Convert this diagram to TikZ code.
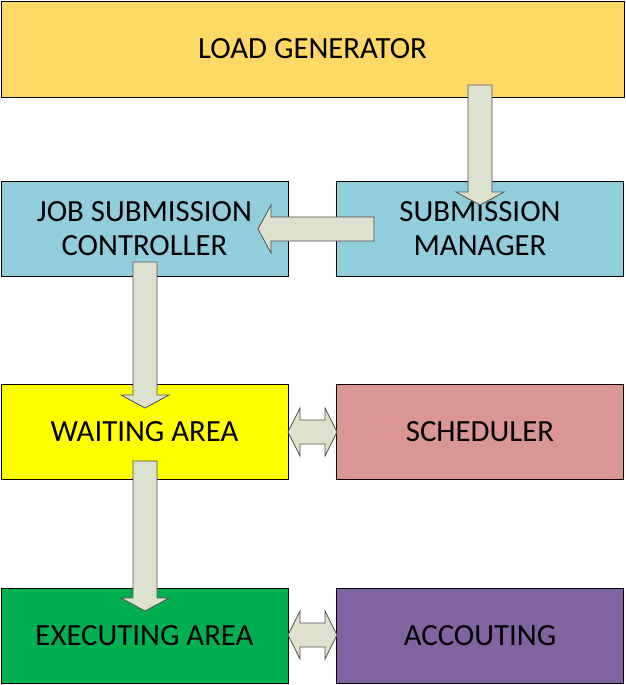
\documentclass[tikz,border=0pt]{standalone}
\usepackage{fontspec}
\setmainfont{Carlito}
\definecolor{lgc}{RGB}{255,217,102}
\definecolor{bluec}{RGB}{146,205,220}
\definecolor{yelc}{RGB}{255,255,0}
\definecolor{schc}{RGB}{217,150,148}
\definecolor{grnc}{RGB}{0,176,80}
\definecolor{purc}{RGB}{128,100,162}
\definecolor{arrc}{RGB}{221,226,206}
\definecolor{arrb}{RGB}{80,80,80}
\begin{document}
\begin{tikzpicture}[x=1pt,y=-1pt,
  box/.style={draw=black, line width=0.8pt, minimum width=287pt, minimum height=95pt, inner sep=0pt, align=center, font=\fontsize{30.8}{34}\selectfont},
  blockarrow/.style={fill=arrc, draw=arrb, line width=0.8pt, line join=miter}]
\useasboundingbox (0,0) rectangle (625,685);
\node[box, fill=lgc, minimum width=623pt, minimum height=96pt] (lg) at (312.5,49) {LOAD GENERATOR};
\node[box, fill=bluec] (jsc) at (144.5,228.5) {JOB SUBMISSION\\CONTROLLER};
\node[box, fill=bluec] (sm) at (480,228.5) {SUBMISSION\\MANAGER};
\node[box, fill=yelc] (wa) at (144.5,431.5) {WAITING AREA};
\node[box, fill=schc] (sch) at (480,431.5) {SCHEDULER};
\node[box, fill=grnc] (ea) at (144.5,635.5) {EXECUTING AREA};
\node[box, fill=purc] (acc) at (480,635.5) {ACCOUTING};
% lg -> sm
\draw[blockarrow] (468,85) -- (492,85) -- (492,192) -- (504,192) -- (480,205) -- (456,192) -- (468,192) -- cycle;
% sm -> jsc
\draw[blockarrow] (374,217) -- (374,241) -- (271,241) -- (271,253) -- (258,229) -- (271,205) -- (271,217) -- cycle;
% jsc -> wa
\draw[blockarrow] (133,262) -- (157,262) -- (157,395) -- (169,395) -- (145,408) -- (121,395) -- (133,395) -- cycle;
% wa -> ea
\draw[blockarrow] (133,461) -- (157,461) -- (157,598) -- (169,598) -- (145,611) -- (121,598) -- (133,598) -- cycle;
% wa <-> sch
\draw[blockarrow] (288,432) -- (300,408) -- (300,420) -- (325,420) -- (325,408) -- (337,432) -- (325,456) -- (325,444) -- (300,444) -- (300,456) -- cycle;
% ea <-> acc
\draw[blockarrow] (288,635) -- (300,611) -- (300,623) -- (325,623) -- (325,611) -- (337,635) -- (325,659) -- (325,647) -- (300,647) -- (300,659) -- cycle;
\end{tikzpicture}
\end{document}
